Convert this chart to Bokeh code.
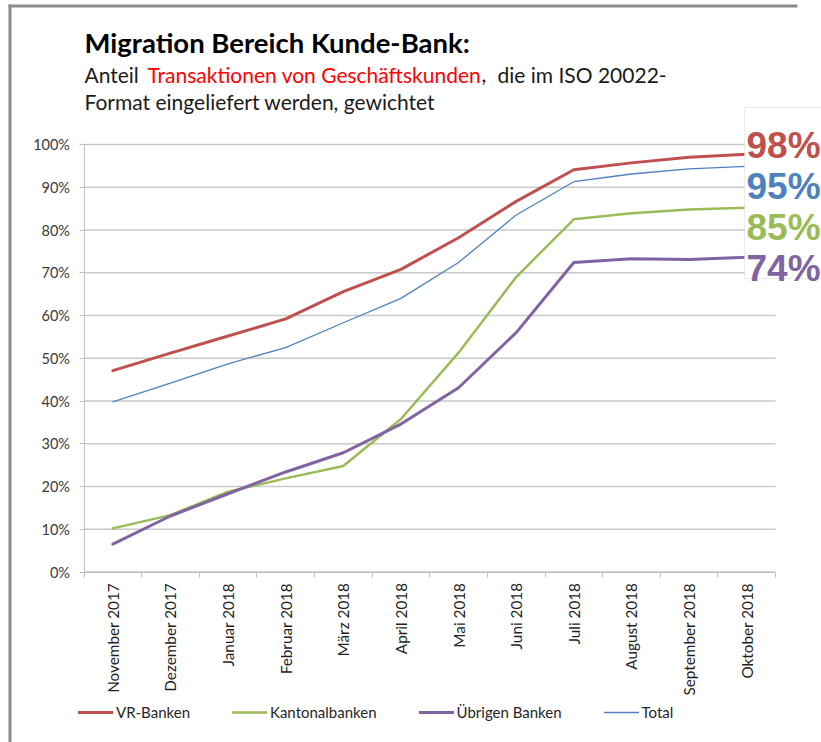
from math import pi
from bokeh.plotting import figure
from bokeh.models import (Range1d, LinearAxis, FixedTicker, NumeralTickFormatter, Label,
                          Legend, LegendItem, BoxAnnotation)
from bokeh.embed import file_html
from bokeh.resources import INLINE

# ---- data ----
months = ["November 2017", "Dezember 2017", "Januar 2018", "Februar 2018", "März 2018",
          "April 2018", "Mai 2018", "Juni 2018", "Juli 2018", "August 2018",
          "September 2018", "Oktober 2018"]
vr_banken = [0.471, 0.512, 0.552, 0.592, 0.656, 0.708, 0.782, 0.867, 0.941, 0.957, 0.970, 0.977]
kantonalbanken = [0.102, 0.133, 0.188, 0.219, 0.248, 0.358, 0.513, 0.690, 0.825, 0.839, 0.848, 0.852]
uebrige_banken = [0.065, 0.131, 0.183, 0.234, 0.279, 0.346, 0.431, 0.560, 0.724, 0.733, 0.731, 0.736]
total = [0.398, 0.442, 0.487, 0.525, 0.583, 0.640, 0.724, 0.835, 0.913, 0.931, 0.943, 0.949]
y_ticks = [0.0, 0.1, 0.2, 0.3, 0.4, 0.5, 0.6, 0.7, 0.8, 0.9, 1.0]

series = [
    ("VR-Banken", vr_banken, "#C0504D", 3),
    ("Kantonalbanken", kantonalbanken, "#9BBB59", 2.5),
    ("Übrigen Banken", uebrige_banken, "#8064A2", 3),
    ("Total", total, "#4F81BD", 1.3),
]
end_label_order = [0, 3, 1, 2]  # VR, Total, Kantonal, Übrige

n = len(months)
centers = [i + 0.5 for i in range(n)]
bounds = [float(i) for i in range(n + 1)]

FONT = "Lato"

# ---- layout (canvas pixels) ----
W, H = 821, 742
PX0, PX1 = 83.5, 775.0      # canvas x of first / last category boundary
PY0, PY1 = 571.5, 144.0     # canvas y of 0% / 100%
ux = (PX1 - PX0) / n
uy = PY0 - PY1
x_range = Range1d(-PX0 / ux, n + (W - PX1) / ux)
y_range = Range1d(-(H - PY0) / uy, 1 + PY1 / uy)


def sx(px):
    return px


def sy(py):
    return H - py


p = figure(width=W, height=H, x_range=x_range, y_range=y_range,
           output_backend="svg", toolbar_location=None, x_axis_type=None, y_axis_type=None,
           min_border=0, min_border_left=0, min_border_right=0, min_border_top=0,
           min_border_bottom=0)
p.outline_line_color = None
p.background_fill_color = "white"

# grid lines
p.segment(x0=[0] * len(y_ticks), x1=[n] * len(y_ticks), y0=y_ticks, y1=y_ticks,
          line_color="#c9c9c9", line_width=1.5, level="underlay")

# y axis
ya = LinearAxis(fixed_location=0, bounds=(0, 1), ticker=FixedTicker(ticks=y_ticks),
                formatter=NumeralTickFormatter(format="0%"))
ya.axis_line_color = "#bfbfbf"
ya.major_tick_line_color = "#bfbfbf"
ya.major_tick_out = 5
ya.major_tick_in = 0
ya.minor_tick_line_color = None
ya.major_label_text_font = FONT
ya.major_label_text_font_size = "14.5px"
ya.major_label_text_color = "#3a3a3a"
ya.major_label_standoff = 9
p.add_layout(ya, "left")

# x axis (labels at category centres, ticks at category boundaries)
xa = LinearAxis(fixed_location=0, bounds=(0, n),
                ticker=FixedTicker(ticks=centers, minor_ticks=bounds),
                major_label_overrides={c: m for c, m in zip(centers, months)})
xa.major_label_orientation = pi / 2
xa.axis_line_color = "#bfbfbf"
xa.major_tick_line_color = None
xa.minor_tick_line_color = "#bfbfbf"
xa.minor_tick_out = 5
xa.minor_tick_in = 0
xa.major_tick_out = 5
xa.major_label_standoff = 6
xa.major_label_text_font = FONT
xa.major_label_text_font_size = "15.3px"
xa.major_label_text_color = "#1f1f1f"
p.add_layout(xa, "below")

renderers = []
for name, vals, col, w in series:
    r = p.line(centers, vals, line_color=col, line_width=w, line_join="round", line_cap="round")
    renderers.append(r)

legend = Legend(items=[LegendItem(label=s[0], renderers=[r]) for s, r in zip(series, renderers)],
                orientation="horizontal", location=(sx(78), sy(721)), glyph_width=35,
                glyph_height=16, label_height=16, label_standoff=3, spacing=42, padding=0,
                margin=0, border_line_color=None, background_fill_alpha=0,
                label_text_font=FONT, label_text_font_size="15px", label_text_color="#262626")
p.add_layout(legend, "center")

# title and subtitle
p.add_layout(Label(x=sx(84), y=sy(42), x_units="screen", y_units="screen",
                   text="Migration Bereich Kunde-Bank:", text_font=FONT, text_font_style="bold",
                   text_font_size="27.5px", text_color="black", text_baseline="alphabetic"))
sub1 = [("Anteil", 84, "#1a1a1a"), ("Transaktionen von Geschäftskunden", 147, "#ff0000"),
        (",", 481, "#1a1a1a"), ("die im ISO 20022-", 497, "#1a1a1a")]
for txt, x, col in sub1:
    p.add_layout(Label(x=sx(x), y=sy(74), x_units="screen", y_units="screen",
                       text=txt, text_font=FONT, text_font_size="21px", text_color=col,
                       text_baseline="alphabetic"))
p.add_layout(Label(x=sx(84), y=sy(101), x_units="screen", y_units="screen",
                   text="Format eingeliefert werden, gewichtet", text_font=FONT,
                   text_font_size="21px", text_color="#1a1a1a", text_baseline="alphabetic"))

# end-value box
p.add_layout(BoxAnnotation(left=sx(744), right=sx(840), bottom=sy(278), top=sy(107),
                           left_units="screen", right_units="screen", bottom_units="screen",
                           top_units="screen", fill_color="white", fill_alpha=1,
                           line_color="#bfbfbf", line_width=1))
baselines = [145, 186, 227, 268]
for idx, yb in zip(end_label_order, baselines):
    name, vals, col, w = series[idx]
    p.add_layout(Label(x=sx(746), y=sy(yb), x_units="screen", y_units="screen",
                       text=f"{round(vals[-1] * 100)}%", text_font="Liberation Sans",
                       text_font_style="bold", text_font_size="37px", text_color=col,
                       text_baseline="alphabetic"))

# outer frame lines (top and left)
p.add_layout(BoxAnnotation(left=sx(8), right=sx(797), bottom=sy(7), top=sy(4),
                           left_units="screen", right_units="screen", bottom_units="screen",
                           top_units="screen", fill_color="#8c8c8c", fill_alpha=1,
                           line_color=None))
p.add_layout(BoxAnnotation(left=sx(8), right=sx(11), bottom=sy(760), top=sy(4),
                           left_units="screen", right_units="screen", bottom_units="screen",
                           top_units="screen", fill_color="#8c8c8c", fill_alpha=1,
                           line_color=None))

open("out.html", "w").write(file_html(p, INLINE))
